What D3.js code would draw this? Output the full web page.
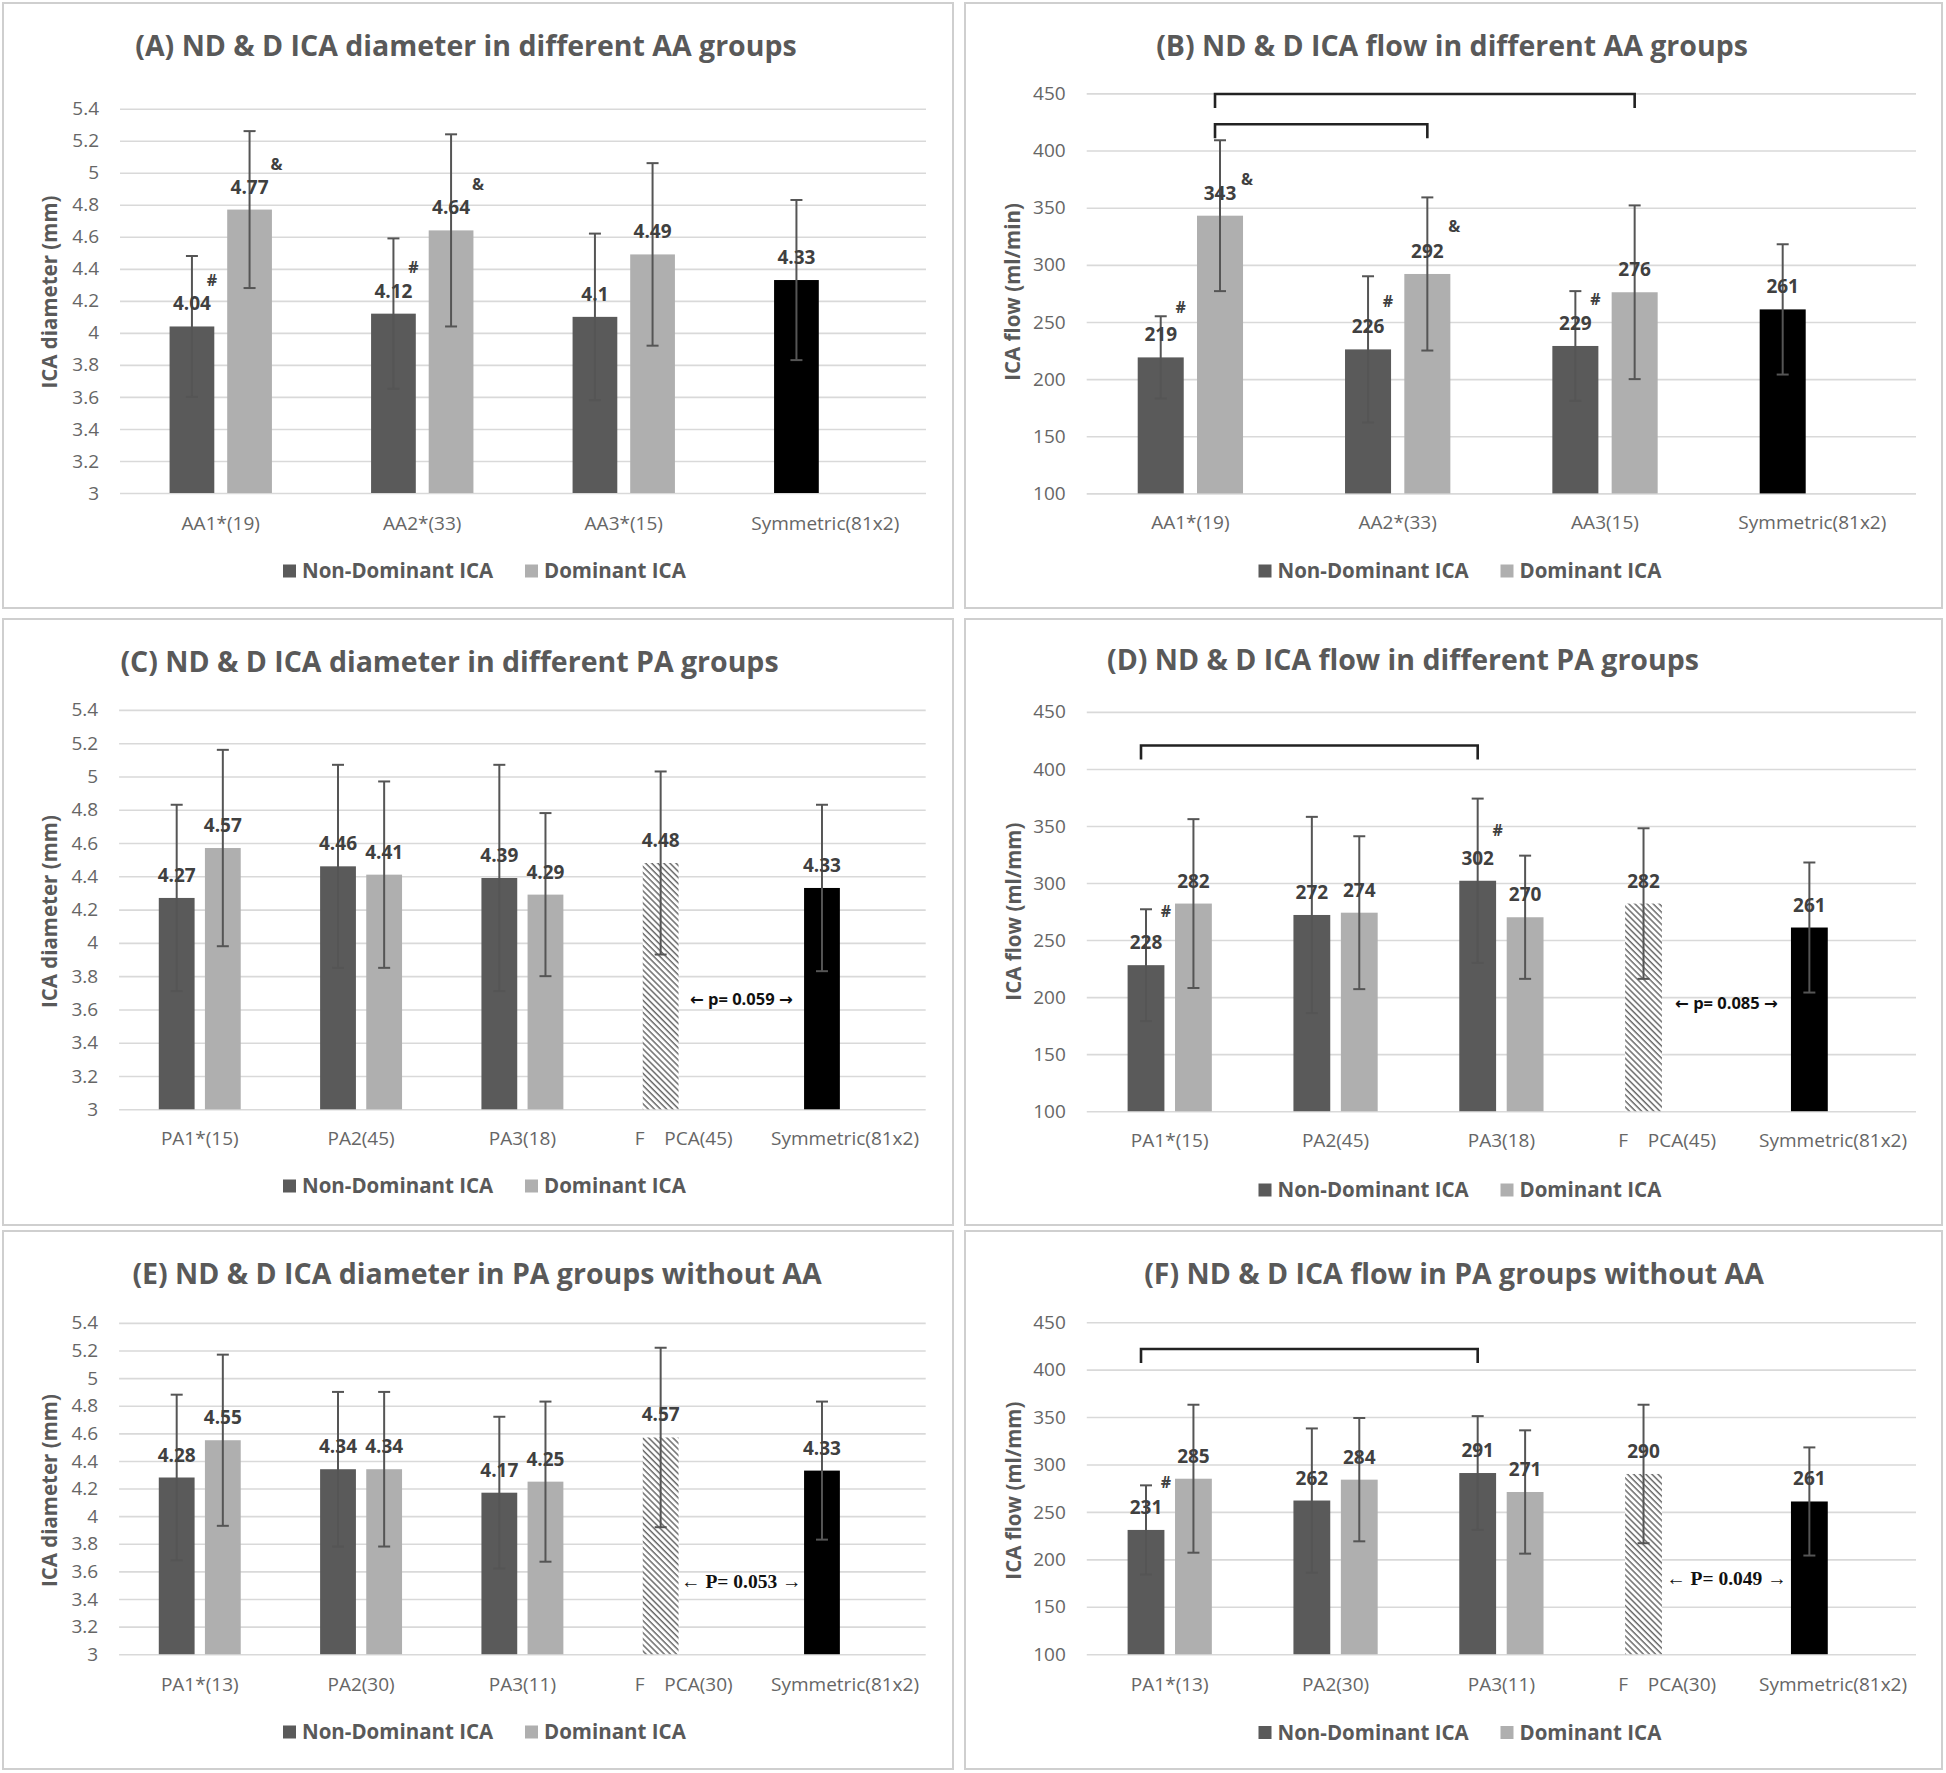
<!DOCTYPE html>
<html><head><meta charset="utf-8">
<script src="https://cdn.jsdelivr.net/npm/d3@7"></script>
<style>
body{margin:0;background:#fff}
svg{display:block}
text{font-family:"Open Sans",sans-serif}
</style>
</head><body>
<svg id="c" width="1946" height="1773"></svg>
<script>
// ---------------- DATA ----------------
const yTicksDiameter = [3,3.2,3.4,3.6,3.8,4,4.2,4.4,4.6,4.8,5,5.2,5.4];
const yTicksFlow = [100,150,200,250,300,350,400,450];
const legendLabels = ["Non-Dominant ICA","Dominant ICA"];

const titleA = "(A) ND & D ICA diameter in different AA groups";
const catsA = ["AA1*(19)","AA2*(33)","AA3*(15)","Symmetric(81x2)"];
const ndA = [4.04,4.12,4.1,4.33];
const ndErrA = [0.44,0.47,0.52,0.5];
const dA = [4.77,4.64,4.49,null];
const dErrA = [0.49,0.6,0.57,null];
const marksA = [[0,"nd","#",4.33],[0,"d","&",5.05],[1,"nd","#",4.41],[1,"d","&",4.93]];

const titleB = "(B) ND & D ICA flow in different AA groups";
const catsB = ["AA1*(19)","AA2*(33)","AA3(15)","Symmetric(81x2)"];
const ndB = [219,226,229,261];
const ndErrB = [36,64,48,57];
const dB = [343,292,276,null];
const dErrB = [66,67,76,null];
const marksB = [[0,"nd","#",263],[0,"d","&",375],[1,"nd","#",268],[1,"d","&",334],[2,"nd","#",270]];
const bracketsB = [[0,"d",2,"d",449.5],[0,"d",1,"d",423]];

const titleC = "(C) ND & D ICA diameter in different PA groups";
const catsC = ["PA1*(15)","PA2(45)","PA3(18)","F    PCA(45)","Symmetric(81x2)"];
const ndC = [4.27,4.46,4.39,4.48,4.33];
const ndErrC = [0.56,0.61,0.68,0.55,0.5];
const dC = [4.57,4.41,4.29,null,null];
const dErrC = [0.59,0.56,0.49,null,null];
const pNoteC = ["\u2190 p= 0.059 \u2192",3.66];

const titleD = "(D) ND & D ICA flow in different PA groups";
const catsD = ["PA1*(15)","PA2(45)","PA3(18)","F    PCA(45)","Symmetric(81x2)"];
const ndD = [228,272,302,282,261];
const ndErrD = [49,86,72,66,57];
const dD = [282,274,270,null,null];
const dErrD = [74,67,54,null,null];
const marksD = [[0,"nd","#",275],[2,"nd","#",346]];
const bracketsD = [[0,"nd",2,"nd",420.5]];
const pNoteD = ["\u2190 p= 0.085 \u2192",195];

const titleE = "(E) ND & D ICA diameter in PA groups without AA";
const catsE = ["PA1*(13)","PA2(30)","PA3(11)","F    PCA(30)","Symmetric(81x2)"];
const ndE = [4.28,4.34,4.17,4.57,4.33];
const ndErrE = [0.6,0.56,0.55,0.65,0.5];
const dE = [4.55,4.34,4.25,null,null];
const dErrE = [0.62,0.56,0.58,null,null];
const pNoteE = ["\u2190 P= 0.053 \u2192",3.53];

const titleF = "(F) ND & D ICA flow in PA groups without AA";
const catsF = ["PA1*(13)","PA2(30)","PA3(11)","F    PCA(30)","Symmetric(81x2)"];
const ndF = [231,262,291,290,261];
const ndErrF = [47,76,60,73,57];
const dF = [285,284,271,null,null];
const dErrF = [78,65,65,null,null];
const marksF = [[0,"nd","#",281.6]];
const bracketsF = [[0,"nd",2,"nd",421.7]];
const pNoteF = ["\u2190 P= 0.049 \u2192",180];

// ---------------- PANELS (data + layout) ----------------
const panels = [
 {title:titleA, cats:catsA, nd:ndA, ndE:ndErrA, d:dA, dE:dErrA, marks:marksA, brackets:[], note:null,
  ticks:yTicksDiameter, ylab:"ICA diameter (mm)",
  box:[3,3,953,608], x:[120,926], y:[493,108.7], t:[466,46], yt:[50,292], catY:523, legY:571, serif:false},
 {title:titleB, cats:catsB, nd:ndB, ndE:ndErrB, d:dB, dE:dErrB, marks:marksB, brackets:bracketsB, note:null,
  ticks:yTicksFlow, ylab:"ICA flow (ml/min)",
  box:[965,3,1942,608], x:[1086.7,1916], y:[493.4,93.4], t:[1452,46], yt:[1013,292], catY:522, legY:571, serif:false},
 {title:titleC, cats:catsC, nd:ndC, ndE:ndErrC, d:dC, dE:dErrC, marks:[], brackets:[], note:pNoteC,
  ticks:yTicksDiameter, ylab:"ICA diameter (mm)",
  box:[3,619,953,1225], x:[119.1,925.7], y:[1109.3,709.9], t:[449.5,662.5], yt:[50,911.6], catY:1138, legY:1186, serif:false},
 {title:titleD, cats:catsD, nd:ndD, ndE:ndErrD, d:dD, dE:dErrD, marks:marksD, brackets:bracketsD, note:pNoteD,
  ticks:yTicksFlow, ylab:"ICA flow (ml/mm)",
  box:[965,619,1942,1225], x:[1086.8,1916], y:[1111.2,711.9], t:[1403,660.5], yt:[1013.6,911.6], catY:1140, legY:1190, serif:false},
 {title:titleE, cats:catsE, nd:ndE, ndE:ndErrE, d:dE, dE:dErrE, marks:[], brackets:[], note:pNoteE,
  ticks:yTicksDiameter, ylab:"ICA diameter (mm)",
  box:[3,1231,953,1769], x:[119.1,925.7], y:[1654.2,1322.9], t:[477,1274], yt:[50,1490.6], catY:1684, legY:1732, serif:true},
 {title:titleF, cats:catsF, nd:ndF, ndE:ndErrF, d:dF, dE:dErrF, marks:marksF, brackets:bracketsF, note:pNoteF,
  ticks:yTicksFlow, ylab:"ICA flow (ml/mm)",
  box:[965,1231,1942,1769], x:[1086.8,1916], y:[1654.2,1322.2], t:[1454,1274], yt:[1013.6,1490.6], catY:1684, legY:1732.5, serif:true}
];

const C_ND = "#5a5a5a", C_D = "#afafaf", C_SYM = "#000000", C_TXT = "#595959", C_LBL = "#404040";

const svg = d3.select("#c");
const defs = svg.append("defs");
const pat = defs.append("pattern").attr("id","hatch").attr("patternUnits","userSpaceOnUse")
  .attr("width",4.3).attr("height",4.3).attr("patternTransform","rotate(-45)");
pat.append("rect").attr("width",4.3).attr("height",4.3).attr("fill","#fff");
pat.append("line").attr("x1",1).attr("y1",0).attr("x2",1).attr("y2",4.3).attr("stroke","#6a6a6a").attr("stroke-width",1.5);

svg.append("rect").attr("width",1946).attr("height",1773).attr("fill","#fff");

function ndFill(c){
  if (c.startsWith("Symmetric")) return C_SYM;
  if (c.indexOf("PCA")>=0) return "url(#hatch)";
  return C_ND;
}

panels.forEach(p => {
  const g = svg.append("g");
  g.append("rect").attr("x",p.box[0]).attr("y",p.box[1])
    .attr("width",p.box[2]-p.box[0]).attr("height",p.box[3]-p.box[1])
    .attr("fill","#fff").attr("stroke","#cfcfcf").attr("stroke-width",2);

  const x = d3.scaleBand().domain(p.cats).range(p.x);
  const y = d3.scaleLinear().domain([p.ticks[0], p.ticks[p.ticks.length-1]]).range(p.y);
  const bw = x.bandwidth(), w = bw*0.222, gap = bw*0.064;
  const ndX = c => x(c)+bw/2-gap/2-w;
  const dX = c => x(c)+bw/2+gap/2;
  const cx = (i, s) => (s==="nd" ? ndX(p.cats[i]) : dX(p.cats[i])) + w/2;

  // gridlines + y tick labels
  const ya = g.append("g").attr("transform",`translate(${p.x[0]},0)`)
    .call(d3.axisLeft(y).tickValues(p.ticks).tickSize(-(p.x[1]-p.x[0])).tickPadding(21)
      .tickFormat(v => String(+v.toFixed(1))));
  ya.select(".domain").remove();
  ya.selectAll("line").attr("stroke","#d9d9d9").attr("stroke-width",1.6);
  ya.selectAll("text").attr("fill","#666").style("font-size","19px").style("font-family","'Open Sans',sans-serif");

  // category labels
  const xa = g.append("g").attr("transform",`translate(0,${p.y[0]})`)
    .call(d3.axisBottom(x).tickSize(0));
  xa.select(".domain").remove();
  xa.selectAll("text").attr("y", p.catY - p.y[0]).attr("dy","0.35em")
    .attr("fill","#666").style("font-size","19px").style("font-family","'Open Sans',sans-serif")
    .style("white-space","pre").attr("xml:space","preserve");

  // bars
  const ndData = p.cats.map((c,i)=>({c, v:p.nd[i], e:p.ndE[i], s:"nd"})).filter(d=>d.v!=null);
  const dData = p.cats.map((c,i)=>({c, v:p.d[i], e:p.dE[i], s:"d"})).filter(d=>d.v!=null);
  const all = ndData.concat(dData);
  const bx = d => d.s==="nd" ? ndX(d.c) : dX(d.c);

  g.selectAll(".bar").data(all).join("rect")
    .attr("x", bx).attr("width", w)
    .attr("y", d => y(d.v)).attr("height", d => y(p.ticks[0]) - y(d.v))
    .attr("fill", d => d.s==="nd" ? ndFill(d.c) : C_D);

  // error bars
  const eb = g.selectAll(".eb").data(all).join("g").attr("stroke","#555").attr("stroke-width",2);
  eb.append("line").attr("x1", d=>bx(d)+w/2).attr("x2", d=>bx(d)+w/2)
    .attr("y1", d=>y(d.v+d.e)).attr("y2", d=>y(d.v-d.e));
  eb.append("line").attr("x1", d=>bx(d)+w/2-6).attr("x2", d=>bx(d)+w/2+6)
    .attr("y1", d=>y(d.v+d.e)).attr("y2", d=>y(d.v+d.e));
  eb.append("line").attr("x1", d=>bx(d)+w/2-6).attr("x2", d=>bx(d)+w/2+6)
    .attr("y1", d=>y(d.v-d.e)).attr("y2", d=>y(d.v-d.e));

  // value labels
  g.selectAll(".vl").data(all).join("text")
    .attr("x", d=>bx(d)+w/2).attr("y", d=>y(d.v)-16)
    .attr("text-anchor","middle").attr("fill",C_LBL)
    .style("font-size","19px").style("font-weight","700").text(d=>String(d.v));

  // significance markers
  g.selectAll(".mk").data(p.marks).join("text")
    .attr("x", m => cx(m[0], m[1]) + (m[2]==="&" ? 27 : 20))
    .attr("y", m => y(m[3])).attr("dy","0.35em").attr("text-anchor","middle")
    .attr("fill",C_LBL).style("font-size","16px").style("font-weight","700").text(m=>m[2]);

  // brackets
  g.selectAll(".br").data(p.brackets).join("path")
    .attr("d", b => {
      const x1 = cx(b[0],b[1]) - 5, x2 = cx(b[2],b[3]), yy = y(b[4]);
      return `M${x1},${yy+14}V${yy}H${x2}V${yy+14}`;
    }).attr("fill","none").attr("stroke","#222").attr("stroke-width",2.6);

  // p-value note between F PCA and Symmetric bars
  if (p.note) {
    const n = p.cats.length;
    const xl = ndX(p.cats[n-2]) + w, xr = ndX(p.cats[n-1]);
    g.append("text").attr("x",(xl+xr)/2).attr("y",y(p.note[1])).attr("dy","0.35em")
      .attr("text-anchor","middle").attr("fill","#111")
      .style("font-family", p.serif ? "'Liberation Serif',serif" : "'Open Sans','DejaVu Sans',sans-serif")
      .style("font-size", p.serif ? "19.5px" : "16.5px").style("font-weight","700").text(p.note[0]);
  }

  // title
  g.append("text").attr("x",p.t[0]).attr("y",p.t[1]).attr("dy","0.35em").attr("text-anchor","middle")
    .attr("fill",C_TXT).style("font-size","28.5px").style("font-weight","700").text(p.title);

  // y axis title
  g.append("text").attr("transform",`translate(${p.yt[0]},${p.yt[1]}) rotate(-90)`)
    .attr("dy","0.35em").attr("text-anchor","middle").attr("fill",C_TXT)
    .style("font-size","20.5px").style("font-weight","700").text(p.ylab);

  // legend
  const pc = (p.box[0]+p.box[2])/2;
  const items = [[pc-195, C_ND, legendLabels[0]],[pc+47, C_D, legendLabels[1]]];
  items.forEach(it => {
    g.append("rect").attr("x",it[0]).attr("y",p.legY-6.5).attr("width",13).attr("height",13).attr("fill",it[1]);
    g.append("text").attr("x",it[0]+19).attr("y",p.legY).attr("dy","0.35em").attr("fill",C_TXT)
      .style("font-size","20.5px").style("font-weight","700").text(it[2]);
  });
});
</script>
</body></html>
